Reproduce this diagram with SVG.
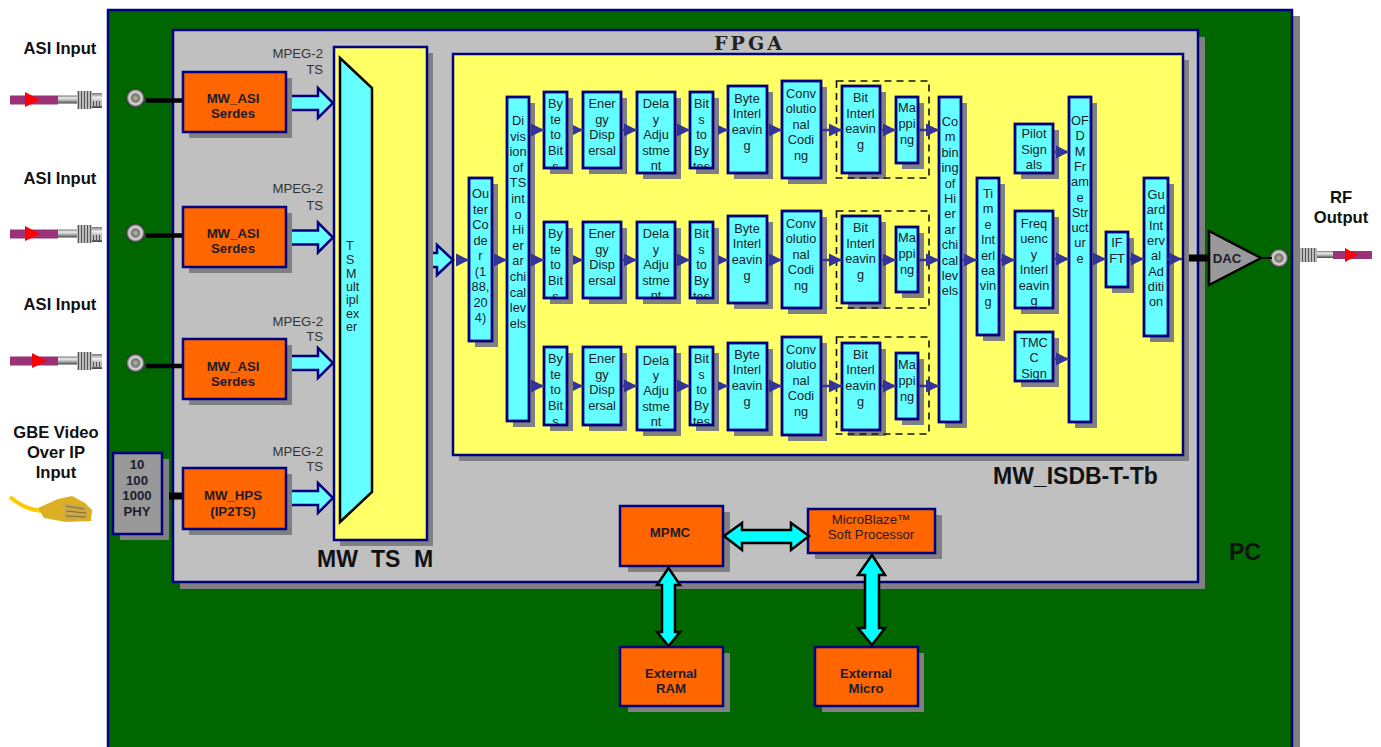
<svg xmlns="http://www.w3.org/2000/svg" width="1381" height="747" viewBox="0 0 1381 747">
<style>
text{font-family:"Liberation Sans",Arial,sans-serif;fill:#1c1c2c}
.sh{fill:#808080}
.p{stroke:#000080;stroke-width:2.5}
.cy{fill:#66ffff;stroke:#000080;stroke-width:2.8}
.or{fill:#ff6600;stroke:#000080;stroke-width:2.5}
.t{font-size:12.8px;text-anchor:middle}
.o{font-size:13.2px;font-weight:bold;text-anchor:middle}
.l{font-size:16.6px;font-weight:bold;text-anchor:middle;fill:#111}
.m{font-size:13.2px;text-anchor:end;fill:#333}
.big{font-size:23px;font-weight:bold;fill:#111}
.c{fill:none;stroke:#333399;stroke-width:2.5}
.ba{fill:#66ffff;stroke:#000080;stroke-width:2.5}
.bd{fill:#00ffff;stroke:#000;stroke-width:2.5}
.w{stroke:#000;stroke-width:4.5}
.dash{fill:none;stroke:#111;stroke-width:1.6;stroke-dasharray:7 5}
</style>
<defs>
<marker id="ah" markerUnits="userSpaceOnUse" markerWidth="14" markerHeight="14" refX="13" refY="7" orient="auto"><path d="M0 0.5L13 7L0 13.5z" fill="#333399"/></marker>
<marker id="as" markerUnits="userSpaceOnUse" markerWidth="11" markerHeight="11" refX="10" refY="5.500" orient="auto"><path d="M0 0.5L10 5.500L0 10.500z" fill="#333399"/></marker>
<linearGradient id="sv" x1="0" y1="0" x2="0" y2="1"><stop offset="0" stop-color="#777"/><stop offset=".3" stop-color="#eee"/><stop offset=".65" stop-color="#aaa"/><stop offset="1" stop-color="#444"/></linearGradient>
<radialGradient id="bnc"><stop offset="0" stop-color="#b8b8a8"/><stop offset=".4" stop-color="#77776f"/><stop offset=".65" stop-color="#e4e4e4"/><stop offset=".85" stop-color="#777"/><stop offset="1" stop-color="#222"/></radialGradient>
<pattern id="kn" width="3" height="3" patternUnits="userSpaceOnUse"><rect width="3" height="3" fill="#bbb"/><rect width="1" height="3" fill="#555"/></pattern>
<filter id="soft" x="-5%" y="-20%" width="110%" height="140%"><feGaussianBlur stdDeviation="0.5"/></filter>
<path id="bigA" d="M0 -7H26V-15L41 0L26 15V7H0"/>
<g id="coaxIn" filter="url(#soft)"><rect x="10" y="-4.500" width="48" height="9" fill="#993377"/><rect x="58" y="-4.500" width="19" height="8" fill="url(#sv)"/><rect x="77" y="-9" width="15" height="18" fill="url(#kn)"/><rect x="92" y="-7" width="10" height="15" fill="url(#sv)"/><rect x="92" y="1" width="10" height="5" fill="url(#kn)"/></g>
<circle id="bncC" r="9.500" fill="url(#bnc)"/>
<clipPath id="c1"><rect width="1381" height="167"/></clipPath>
<clipPath id="c2"><rect width="1381" height="297"/></clipPath>
<clipPath id="c3"><rect width="1381" height="424"/></clipPath>
<clipPath id="cf"><rect width="1381" height="307"/></clipPath>
<clipPath id="ct"><rect width="1381" height="380"/></clipPath>
</defs>
<rect width="1381" height="747" fill="#fff"/>

<g id="board-pc"><rect class="sh" x="115" y="16" width="1185" height="731"/><rect x="108" y="10" width="1184" height="740" fill="#006600" class="p"/><text class="big" x="1229" y="560">PC</text></g>
<g id="fpga"><rect class="sh" x="180" y="37" width="1025" height="552"/><rect x="173" y="30" width="1025" height="552" fill="#c0c0c0" class="p"/><text x="714" y="50" textLength="68" lengthAdjust="spacing" style="font-family:'DejaVu Serif',serif;font-size:19px;font-weight:bold;fill:#222">FPGA</text></g>
<g id="mw-ts-m"><rect class="sh" x="340" y="53" width="93" height="493"/><rect x="334" y="47" width="93" height="493" fill="#ffff66" class="p"/>
<text class="big" x="317" y="567">MW</text><text class="big" x="371" y="567">TS</text><text class="big" x="414" y="567">M</text></g>
<g id="mw-isdb"><rect class="sh" x="459" y="60" width="730" height="401"/><rect x="453" y="54" width="730" height="401" fill="#ffff66" class="p"/><text class="big" x="993" y="484">MW_ISDB-T-Tb</text></g>

<g id="labels">
<text class="l" x="60" y="54">ASI Input</text><text class="l" x="60" y="184">ASI Input</text><text class="l" x="60" y="310">ASI Input</text>
<text class="l" x="56" y="438">GBE Video</text><text class="l" x="56" y="458">Over IP</text><text class="l" x="56" y="478">Input</text>
<text class="l" x="1341" y="203">RF</text><text class="l" x="1341" y="223">Output</text>
<text class="m" x="323" y="58">MPEG-2</text><text class="m" x="323" y="74">TS</text>
<text class="m" x="323" y="193">MPEG-2</text><text class="m" x="323" y="210">TS</text>
<text class="m" x="323" y="326">MPEG-2</text><text class="m" x="323" y="341">TS</text>
<text class="m" x="323" y="456">MPEG-2</text><text class="m" x="323" y="471">TS</text>
</g>

<g id="cables">
<use href="#coaxIn" y="100"/><path d="M25 92L40 100L25 107z" fill="#ff0000"/>
<use href="#coaxIn" y="234"/><path d="M25 226L40 234L25 241z" fill="#ff0000"/>
<use href="#coaxIn" y="361"/><path d="M32 353L47 361L32 368z" fill="#ff0000"/>
<g id="coax-out" filter="url(#soft)"><rect x="1333" y="251" width="39" height="8" fill="#993377"/><rect x="1317" y="251" width="16" height="7" fill="url(#sv)"/><rect x="1300" y="248" width="17" height="14" fill="url(#kn)"/></g><path d="M1345 248L1358 255L1345 262z" fill="#ff0000"/>
<g filter="url(#soft)"><path d="M10 497C20 505 28 510 44 511" fill="none" stroke="#ffc800" stroke-width="4"/><path d="M38 508L58 499L72 496L85 503L92 510L91 521L66 522L44 518z" fill="#dcb020"/><path d="M62 503L86 506L88 518L66 520z" fill="#c8a850"/><path d="M66 506L84 509M66 511L86 513M66 516L86 517" stroke="#8a6a20" stroke-width="1"/></g>
<use href="#bncC" x="135.500" y="98"/><use href="#bncC" x="135.500" y="233"/><use href="#bncC" x="135.500" y="363"/><use href="#bncC" x="1279" y="258"/>
</g>

<g id="wires">
<line class="w" x1="146" y1="100.500" x2="184" y2="100.500"/><line class="w" x1="146" y1="235.500" x2="184" y2="235.500"/><line class="w" x1="146" y1="366" x2="184" y2="366"/>
<line class="w" x1="162" y1="496" x2="184" y2="496" style="stroke-width:7"/>
<line class="w" x1="1189" y1="258" x2="1210" y2="258" style="stroke-width:7"/>
<line class="w" x1="1258" y1="258" x2="1272" y2="258" style="stroke-width:2"/>
</g>

<g id="asi1"><rect class="sh" x="189" y="78" width="103" height="60"/><rect class="or" x="183" y="72" width="103" height="60"/><text class="o" x="233" y="103">MW_ASI</text><text class="o" x="233" y="118">Serdes</text></g>
<g id="asi2"><rect class="sh" x="189" y="213" width="103" height="60"/><rect class="or" x="183" y="207" width="103" height="60"/><text class="o" x="233" y="238">MW_ASI</text><text class="o" x="233" y="253">Serdes</text></g>
<g id="asi3"><rect class="sh" x="189" y="345" width="103" height="60"/><rect class="or" x="183" y="339" width="103" height="60"/><text class="o" x="233" y="371">MW_ASI</text><text class="o" x="233" y="386">Serdes</text></g>
<g id="hps"><rect class="sh" x="189" y="474" width="103" height="61"/><rect class="or" x="183" y="468" width="103" height="61"/><text class="o" x="233" y="500">MW_HPS</text><text class="o" x="233" y="516">(IP2TS)</text></g>
<g id="phy"><rect class="sh" x="120" y="459" width="49" height="81"/><rect x="113" y="453" width="49" height="81" fill="#999" class="p"/><text x="137" y="469" class="o">10</text><text x="137" y="485" class="o">100</text><text x="137" y="500" class="o">1000</text><text x="137" y="516" class="o">PHY</text></g>
<g id="mux"><path d="M340 58L372 88V492L340 522z" fill="#66ffff" stroke="#000" stroke-width="2.500"/><text style="font-size:12.5px"><tspan x="346" y="250">T</tspan><tspan x="346" y="264">S</tspan><tspan x="346" y="278">M</tspan><tspan x="346" y="291">ult</tspan><tspan x="346" y="304">ipl</tspan><tspan x="346" y="318">ex</tspan><tspan x="346" y="331">er</tspan></text></g>

<g id="outer-coder"><rect class="sh" x="475" y="184" width="23" height="163"/><rect class="cy" x="469" y="178" width="23" height="163"/><text class="t"><tspan x="480.500" y="198">Ou</tspan><tspan x="480.500" y="213.500">ter</tspan><tspan x="480.500" y="229">Co</tspan><tspan x="480.500" y="244.500">de</tspan><tspan x="480.500" y="260">r</tspan><tspan x="480.500" y="275.500">(1</tspan><tspan x="480.500" y="291">88,</tspan><tspan x="480.500" y="306.500">20</tspan><tspan x="480.500" y="322">4)</tspan></text></g>
<g id="division"><rect class="sh" x="513" y="103" width="22" height="324"/><rect class="cy" x="507" y="97" width="22" height="324"/><text class="t"><tspan x="518" y="125">Di</tspan><tspan x="518" y="140.600">vis</tspan><tspan x="518" y="156.200">ion</tspan><tspan x="518" y="171.800">of</tspan><tspan x="518" y="187.400">TS</tspan><tspan x="518" y="203">int</tspan><tspan x="518" y="218.600">o</tspan><tspan x="518" y="234.200">Hi</tspan><tspan x="518" y="249.800">er</tspan><tspan x="518" y="265.400">ar</tspan><tspan x="518" y="281">chi</tspan><tspan x="518" y="296.600">cal</tspan><tspan x="518" y="312.200">lev</tspan><tspan x="518" y="327.800">els</tspan></text></g>

<g id="byte-bits-1"><rect class="sh" x="550" y="98" width="23" height="76"/><rect class="cy" x="544" y="92" width="23" height="76"/><text class="t" clip-path="url(#c1)"><tspan x="555.500" y="108">By</tspan><tspan x="555.500" y="124">te</tspan><tspan x="555.500" y="139">to</tspan><tspan x="555.500" y="155">Bit</tspan><tspan x="555.500" y="171">s</tspan></text></g>
<g id="energy-1"><rect class="sh" x="589" y="98" width="38" height="76"/><rect class="cy" x="583" y="92" width="38" height="76"/><text class="t"><tspan x="602" y="108">Ener</tspan><tspan x="602" y="124">gy</tspan><tspan x="602" y="139">Disp</tspan><tspan x="602" y="155">ersal</tspan></text></g>
<g id="delay-1"><rect class="sh" x="643" y="98" width="38" height="81"/><rect class="cy" x="637" y="92" width="38" height="81"/><text class="t"><tspan x="656" y="108">Dela</tspan><tspan x="656" y="124">y</tspan><tspan x="656" y="139">Adju</tspan><tspan x="656" y="155">stme</tspan><tspan x="656" y="170">nt</tspan></text></g>
<g id="bits-byte-1"><rect class="sh" x="696" y="98" width="23" height="76"/><rect class="cy" x="690" y="92" width="23" height="76"/><text class="t" clip-path="url(#c1)"><tspan x="701.500" y="108">Bit</tspan><tspan x="701.500" y="124">s</tspan><tspan x="701.500" y="139">to</tspan><tspan x="701.500" y="155">By</tspan><tspan x="701.500" y="171">tes</tspan></text></g>
<g id="byte-int-1"><rect class="sh" x="734" y="92" width="39" height="87"/><rect class="cy" x="728" y="86" width="39" height="87"/><text class="t"><tspan x="747" y="103">Byte</tspan><tspan x="747" y="118">Interl</tspan><tspan x="747" y="134">eavin</tspan><tspan x="747" y="150">g</tspan></text></g>
<g id="conv-1"><rect class="sh" x="788" y="87" width="39" height="97"/><rect class="cy" x="782" y="81" width="39" height="97"/><text class="t"><tspan x="801" y="98">Conv</tspan><tspan x="801" y="113">olutio</tspan><tspan x="801" y="129">nal</tspan><tspan x="801" y="144">Codi</tspan><tspan x="801" y="160">ng</tspan></text></g>
<g id="bit-int-1"><rect class="sh" x="848" y="92" width="38" height="87"/><rect class="cy" x="842" y="86" width="38" height="87"/><text class="t"><tspan x="860.500" y="102">Bit</tspan><tspan x="860.500" y="118">Interl</tspan><tspan x="860.500" y="133">eavin</tspan><tspan x="860.500" y="149">g</tspan></text></g>
<g id="map-1"><rect class="sh" x="902" y="103" width="22" height="66"/><rect class="cy" x="896" y="97" width="22" height="66"/><text class="t"><tspan x="907" y="112">Ma</tspan><tspan x="907" y="128">ppi</tspan><tspan x="907" y="144">ng</tspan></text></g>

<g id="byte-bits-2"><rect class="sh" x="550" y="228" width="23" height="76"/><rect class="cy" x="544" y="222" width="23" height="76"/><text class="t" clip-path="url(#c2)"><tspan x="555.500" y="238">By</tspan><tspan x="555.500" y="254">te</tspan><tspan x="555.500" y="269">to</tspan><tspan x="555.500" y="285">Bit</tspan><tspan x="555.500" y="301">s</tspan></text></g>
<g id="energy-2"><rect class="sh" x="589" y="228" width="38" height="76"/><rect class="cy" x="583" y="222" width="38" height="76"/><text class="t"><tspan x="602" y="238">Ener</tspan><tspan x="602" y="254">gy</tspan><tspan x="602" y="269">Disp</tspan><tspan x="602" y="285">ersal</tspan></text></g>
<g id="delay-2"><rect class="sh" x="643" y="228" width="38" height="76"/><rect class="cy" x="637" y="222" width="38" height="76"/><text class="t" clip-path="url(#c2)"><tspan x="656" y="238">Dela</tspan><tspan x="656" y="254">y</tspan><tspan x="656" y="269">Adju</tspan><tspan x="656" y="285">stme</tspan><tspan x="656" y="300">nt</tspan></text></g>
<g id="bits-byte-2"><rect class="sh" x="696" y="228" width="23" height="76"/><rect class="cy" x="690" y="222" width="23" height="76"/><text class="t" clip-path="url(#c2)"><tspan x="701.500" y="238">Bit</tspan><tspan x="701.500" y="254">s</tspan><tspan x="701.500" y="269">to</tspan><tspan x="701.500" y="285">By</tspan><tspan x="701.500" y="301">tes</tspan></text></g>
<g id="byte-int-2"><rect class="sh" x="734" y="222" width="39" height="87"/><rect class="cy" x="728" y="216" width="39" height="87"/><text class="t"><tspan x="747" y="233">Byte</tspan><tspan x="747" y="248">Interl</tspan><tspan x="747" y="264">eavin</tspan><tspan x="747" y="280">g</tspan></text></g>
<g id="conv-2"><rect class="sh" x="788" y="217" width="39" height="97"/><rect class="cy" x="782" y="211" width="39" height="97"/><text class="t"><tspan x="801" y="228">Conv</tspan><tspan x="801" y="243">olutio</tspan><tspan x="801" y="259">nal</tspan><tspan x="801" y="274">Codi</tspan><tspan x="801" y="290">ng</tspan></text></g>
<g id="bit-int-2"><rect class="sh" x="848" y="222" width="38" height="87"/><rect class="cy" x="842" y="216" width="38" height="87"/><text class="t"><tspan x="860.500" y="232">Bit</tspan><tspan x="860.500" y="248">Interl</tspan><tspan x="860.500" y="263">eavin</tspan><tspan x="860.500" y="279">g</tspan></text></g>
<g id="map-2"><rect class="sh" x="902" y="233" width="22" height="65"/><rect class="cy" x="896" y="227" width="22" height="65"/><text class="t"><tspan x="907" y="242">Ma</tspan><tspan x="907" y="258">ppi</tspan><tspan x="907" y="274">ng</tspan></text></g>

<g id="byte-bits-3"><rect class="sh" x="550" y="353" width="23" height="78"/><rect class="cy" x="544" y="347" width="23" height="78"/><text class="t" clip-path="url(#c3)"><tspan x="555.500" y="363">By</tspan><tspan x="555.500" y="379">te</tspan><tspan x="555.500" y="394">to</tspan><tspan x="555.500" y="410">Bit</tspan><tspan x="555.500" y="426">s</tspan></text></g>
<g id="energy-3"><rect class="sh" x="589" y="353" width="38" height="78"/><rect class="cy" x="583" y="347" width="38" height="78"/><text class="t"><tspan x="602" y="363">Ener</tspan><tspan x="602" y="379">gy</tspan><tspan x="602" y="394">Disp</tspan><tspan x="602" y="410">ersal</tspan></text></g>
<g id="delay-3"><rect class="sh" x="643" y="353" width="38" height="83"/><rect class="cy" x="637" y="347" width="38" height="83"/><text class="t"><tspan x="656" y="365">Dela</tspan><tspan x="656" y="380">y</tspan><tspan x="656" y="395">Adju</tspan><tspan x="656" y="411">stme</tspan><tspan x="656" y="426">nt</tspan></text></g>
<g id="bits-byte-3"><rect class="sh" x="696" y="353" width="23" height="78"/><rect class="cy" x="690" y="347" width="23" height="78"/><text class="t" clip-path="url(#c3)"><tspan x="701.500" y="363">Bit</tspan><tspan x="701.500" y="379">s</tspan><tspan x="701.500" y="394">to</tspan><tspan x="701.500" y="410">By</tspan><tspan x="701.500" y="426">tes</tspan></text></g>
<g id="byte-int-3"><rect class="sh" x="734" y="349" width="39" height="87"/><rect class="cy" x="728" y="343" width="39" height="87"/><text class="t"><tspan x="747" y="359">Byte</tspan><tspan x="747" y="374">Interl</tspan><tspan x="747" y="390">eavin</tspan><tspan x="747" y="406">g</tspan></text></g>
<g id="conv-3"><rect class="sh" x="788" y="343" width="39" height="98"/><rect class="cy" x="782" y="337" width="39" height="98"/><text class="t"><tspan x="801" y="354">Conv</tspan><tspan x="801" y="369">olutio</tspan><tspan x="801" y="385">nal</tspan><tspan x="801" y="400">Codi</tspan><tspan x="801" y="416">ng</tspan></text></g>
<g id="bit-int-3"><rect class="sh" x="848" y="349" width="38" height="87"/><rect class="cy" x="842" y="343" width="38" height="87"/><text class="t"><tspan x="860.500" y="359">Bit</tspan><tspan x="860.500" y="374">Interl</tspan><tspan x="860.500" y="390">eavin</tspan><tspan x="860.500" y="406">g</tspan></text></g>
<g id="map-3"><rect class="sh" x="902" y="359" width="22" height="66"/><rect class="cy" x="896" y="353" width="22" height="66"/><text class="t"><tspan x="907" y="369">Ma</tspan><tspan x="907" y="385">ppi</tspan><tspan x="907" y="401">ng</tspan></text></g>

<g id="dashed-groups"><rect class="dash" x="836.500" y="81" width="92.500" height="97"/><rect class="dash" x="836.500" y="211" width="92.500" height="97"/><rect class="dash" x="836.500" y="337" width="92.500" height="97"/></g>

<g id="combining"><rect class="sh" x="945" y="103" width="22" height="325"/><rect class="cy" x="939" y="97" width="22" height="325"/><text class="t"><tspan x="950" y="126">Co</tspan><tspan x="950" y="141.400">m</tspan><tspan x="950" y="156.800">bin</tspan><tspan x="950" y="172.200">ing</tspan><tspan x="950" y="187.600">of</tspan><tspan x="950" y="203">Hi</tspan><tspan x="950" y="218.400">er</tspan><tspan x="950" y="233.800">ar</tspan><tspan x="950" y="249.200">chi</tspan><tspan x="950" y="264.600">cal</tspan><tspan x="950" y="280">lev</tspan><tspan x="950" y="295.400">els</tspan></text></g>
<g id="time-int"><rect class="sh" x="983" y="184" width="22" height="157"/><rect class="cy" x="977" y="178" width="22" height="157"/><text class="t"><tspan x="988" y="198">Ti</tspan><tspan x="988" y="213.400">m</tspan><tspan x="988" y="228.800">e</tspan><tspan x="988" y="244.200">Int</tspan><tspan x="988" y="259.600">erl</tspan><tspan x="988" y="275">ea</tspan><tspan x="988" y="290.400">vin</tspan><tspan x="988" y="305.800">g</tspan></text></g>
<g id="pilot"><rect class="sh" x="1021" y="130" width="38" height="49"/><rect class="cy" x="1015" y="124" width="38" height="49"/><text class="t"><tspan x="1034" y="138">Pilot</tspan><tspan x="1034" y="154">Sign</tspan><tspan x="1034" y="169">als</tspan></text></g>
<g id="freq-int"><rect class="sh" x="1021" y="217" width="38" height="97"/><rect class="cy" x="1015" y="211" width="38" height="97"/><text class="t" clip-path="url(#cf)"><tspan x="1034" y="228">Freq</tspan><tspan x="1034" y="243">uenc</tspan><tspan x="1034" y="259">y</tspan><tspan x="1034" y="274">Interl</tspan><tspan x="1034" y="290">eavin</tspan><tspan x="1034" y="305">g</tspan></text></g>
<g id="tmcc"><rect class="sh" x="1021" y="338" width="38" height="49"/><rect class="cy" x="1015" y="332" width="38" height="49"/><text class="t" clip-path="url(#ct)"><tspan x="1034" y="347">TMC</tspan><tspan x="1034" y="362">C</tspan><tspan x="1034" y="378">Sign</tspan></text></g>
<g id="ofdm"><rect class="sh" x="1075" y="103" width="22" height="325"/><rect class="cy" x="1069" y="97" width="22" height="325"/><text class="t"><tspan x="1080" y="125">OF</tspan><tspan x="1080" y="140.300">D</tspan><tspan x="1080" y="155.600">M</tspan><tspan x="1080" y="170.900">Fr</tspan><tspan x="1080" y="186.200">am</tspan><tspan x="1080" y="201.500">e</tspan><tspan x="1080" y="216.800">Str</tspan><tspan x="1080" y="232.100">uct</tspan><tspan x="1080" y="247.400">ur</tspan><tspan x="1080" y="262.700">e</tspan></text></g>
<g id="ifft"><rect class="sh" x="1112" y="238" width="22" height="55"/><rect class="cy" x="1106" y="232" width="22" height="55"/><text class="t"><tspan x="1117" y="247">IF</tspan><tspan x="1117" y="263">FT</tspan></text></g>
<g id="guard"><rect class="sh" x="1150" y="184" width="24" height="158"/><rect class="cy" x="1144" y="178" width="24" height="158"/><text class="t"><tspan x="1156" y="199">Gu</tspan><tspan x="1156" y="214.300">ard</tspan><tspan x="1156" y="229.600">Int</tspan><tspan x="1156" y="244.900">erv</tspan><tspan x="1156" y="260.200">al</tspan><tspan x="1156" y="275.500">Ad</tspan><tspan x="1156" y="290.800">diti</tspan><tspan x="1156" y="306.100">on</tspan></text></g>
<g id="dac"><path d="M1209 231L1261 258L1209 285z" fill="#999" stroke="#000" stroke-width="2.500"/><text class="o" x="1227" y="263">DAC</text></g>

<g id="mpmc"><rect class="sh" x="628" y="512" width="102" height="60"/><rect class="or" x="620" y="506" width="103" height="60"/><text class="o" x="670" y="537">MPMC</text></g>
<g id="microblaze"><rect class="sh" x="815" y="515" width="127" height="44"/><rect class="or" x="808" y="509" width="127" height="44"/><text class="t" x="871" y="524" style="font-size:13.2px">MicroBlaze™</text><text class="t" x="871" y="539" style="font-size:13.2px">Soft Processor</text></g>
<g id="ext-ram"><rect class="sh" x="628" y="653" width="102" height="59"/><rect class="or" x="620" y="647" width="103" height="59"/><text class="o" x="671" y="678">External</text><text class="o" x="671" y="693">RAM</text></g>
<g id="ext-micro"><rect class="sh" x="822" y="653" width="102" height="59"/><rect class="or" x="815" y="647" width="103" height="59"/><text class="o" x="866" y="678">External</text><text class="o" x="866" y="693">Micro</text></g>

<g id="connectors">
<use href="#bigA" class="ba" transform="translate(292 103)"/><use href="#bigA" class="ba" transform="translate(292 237.500)"/><use href="#bigA" class="ba" transform="translate(292 363)"/><use href="#bigA" class="ba" transform="translate(292 498)"/>
<path class="ba" d="M433 253H437V245L453 260L437 275V267H433"/>
<path class="bd" d="M724 536L742 523V530H791V523L809 536L791 550V543H742V550z"/>
<path class="bd" d="M668.500 568L680 585H675V632H680L668.500 646L657 632H662V585H657z"/>
<path class="bd" d="M872 555L885 575H879V628H885L872 645L858 628H865V575H858z"/>

<path class="c" marker-end="url(#ah)" d="M457 260H469"/><path class="c" marker-end="url(#ah)" d="M494 260H507"/>
<path class="c" marker-end="url(#ah)" d="M531 130H544"/><path class="c" marker-end="url(#as)" d="M573 130H583"/><path class="c" marker-end="url(#ah)" d="M623 130H637"/><path class="c" marker-end="url(#ah)" d="M677 130H690"/><path class="c" marker-end="url(#as)" d="M718 130H728"/><path class="c" marker-end="url(#ah)" d="M769 130H782"/><path class="c" marker-end="url(#ah)" d="M822 130H842"/><path class="c" marker-end="url(#ah)" d="M882 130H896"/><path class="c" marker-end="url(#ah)" d="M919 130H939"/>
<path class="c" marker-end="url(#ah)" d="M531 260H544"/><path class="c" marker-end="url(#as)" d="M573 260H583"/><path class="c" marker-end="url(#ah)" d="M623 260H637"/><path class="c" marker-end="url(#ah)" d="M677 260H690"/><path class="c" marker-end="url(#as)" d="M718 260H728"/><path class="c" marker-end="url(#ah)" d="M769 260H782"/><path class="c" marker-end="url(#ah)" d="M822 260H842"/><path class="c" marker-end="url(#ah)" d="M882 260H896"/><path class="c" marker-end="url(#ah)" d="M919 260H939"/>
<path class="c" marker-end="url(#ah)" d="M531 386H544"/><path class="c" marker-end="url(#as)" d="M573 386H583"/><path class="c" marker-end="url(#ah)" d="M623 386H637"/><path class="c" marker-end="url(#ah)" d="M677 386H690"/><path class="c" marker-end="url(#as)" d="M718 386H728"/><path class="c" marker-end="url(#ah)" d="M769 386H782"/><path class="c" marker-end="url(#ah)" d="M822 386H842"/><path class="c" marker-end="url(#ah)" d="M882 386H896"/><path class="c" marker-end="url(#ah)" d="M919 386H939"/>
<path class="c" marker-end="url(#ah)" d="M963 260H977"/><path class="c" marker-end="url(#ah)" d="M1001 260H1015"/>
<path class="c" marker-end="url(#ah)" d="M1055 152H1069"/><path class="c" marker-end="url(#ah)" d="M1055 259H1069"/><path class="c" marker-end="url(#ah)" d="M1055 359H1069"/>
<path class="c" marker-end="url(#ah)" d="M1093 259H1106"/><path class="c" marker-end="url(#ah)" d="M1130 259H1144"/><path class="c" marker-end="url(#ah)" d="M1167 259H1182"/>
</g>
</svg>
